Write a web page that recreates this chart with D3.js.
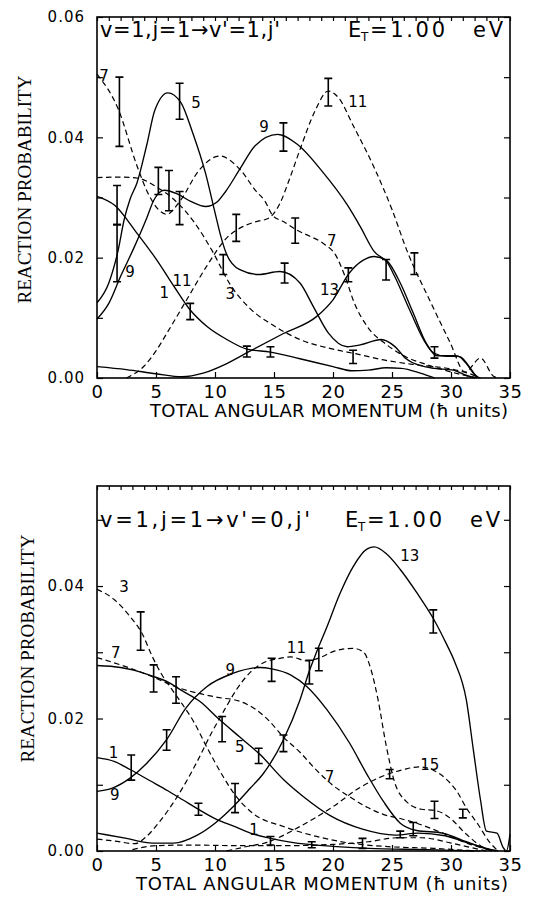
<!DOCTYPE html>
<html>
<head>
<meta charset="utf-8">
<script src="https://cdn.jsdelivr.net/npm/d3@7"></script>
<style>
  html, body { margin: 0; padding: 0; background: #fff; }
  svg { display: block; }
</style>
</head>
<body>
<svg id="fig" width="535" height="901"></svg>
<script>
// Reaction probability vs total angular momentum J, one curve per final j'.
// Each curve is a list of [J, P] points; error bars are [J, low, high].

const xTickLabels = [0, 5, 10, 15, 20, 25, 30, 35];
const yTickLabelsUpper = [0.00, 0.02, 0.04, 0.06];
const yTickLabelsLower = [0.00, 0.02, 0.04];

// ---------- upper panel: v=1, j=1 -> v'=1, j' ----------
const up1 = [[0,0.0302],[1.5,0.0287],[3.3,0.0243],[5,0.0198],[6.6,0.015],[7.9,0.0113],[9.3,0.0086],[11,0.0064],[12.7,0.0048],[14.7,0.0043],[17.2,0.0032],[20,0.0019],[21.6,0.0012],[23,0.0013],[24.5,0.0017],[25.8,0.0016],[27.4,0.0008],[28.6,0]];
const up3 = [[0,0.0333],[2,0.0334],[3.5,0.0332],[5,0.0318],[6.5,0.0297],[8.2,0.026],[9.8,0.021],[11.3,0.0155],[13,0.0115],[14.9,0.0088],[17.2,0.0064],[20,0.0048],[22,0.004],[24.3,0.003],[27,0.0022],[30,0.0015],[31.6,0.0007],[32.5,0]];
const up5 = [[0,0.0125],[1,0.0158],[1.8,0.0213],[2.3,0.0263],[2.8,0.0297],[3.4,0.0325],[4.2,0.0386],[4.9,0.0445],[6,0.0474],[7.1,0.0458],[8.1,0.0408],[9.2,0.034],[10,0.0275],[10.5,0.0235],[11,0.0205],[12.1,0.018],[13.7,0.0172],[15.5,0.0177],[17.2,0.0158],[18.3,0.012],[19.6,0.0075],[21.2,0.0052],[22.3,0.0055],[24.1,0.0064],[25.2,0.0053],[26.2,0.0032],[27.5,0.002],[28.6,0.0016],[30.2,0.0013],[31.2,0.0005],[32,0]];
const up7 = [[0,0.0505],[1.8,0.0447],[3.4,0.0352],[4.3,0.0308],[5.2,0.028],[5.9,0.0272],[7.06,0.0295],[8.64,0.0345],[10.4,0.0369],[12.1,0.0347],[13.5,0.031],[14.2,0.0295],[14.9,0.027],[15.8,0.026],[17,0.0245],[18,0.0236],[19.3,0.0222],[20.2,0.0205],[21,0.017],[21.8,0.0125],[23,0.0083],[24.5,0.0056],[26.2,0.0035],[28,0.0022],[30,0.001],[31.5,0.0003],[32.5,0]];
const up9 = [[0,0.0098],[1,0.0124],[2,0.0169],[3.1,0.0215],[4.2,0.0265],[4.8,0.0295],[5.7,0.0312],[6.8,0.0306],[8,0.0293],[9.2,0.0285],[10.2,0.0293],[10.9,0.031],[12.1,0.0347],[13.4,0.0386],[15.3,0.0405],[17,0.0388],[19.1,0.0343],[21.2,0.0288],[22.3,0.0252],[23.5,0.021],[24.6,0.0192],[25.2,0.017],[26.5,0.0113],[27.7,0.0063],[28.5,0.0042],[29.6,0.0036],[30.6,0.0036],[31.3,0.0024],[31.9,0.0008],[32.4,0]];
const up11 = [[2.5,0],[4,0.002],[5,0.0045],[6,0.0077],[7.6,0.013],[9.3,0.0186],[11,0.0233],[12.4,0.0252],[13.5,0.026],[14.5,0.0265],[15.5,0.029],[16.3,0.033],[17.3,0.0385],[18.5,0.0445],[19.6,0.0477],[20.5,0.0465],[21.7,0.042],[23.6,0.0345],[25,0.028],[26.3,0.021],[28.3,0.0125],[29.9,0.006],[31.2,0.001],[32.5,0.0033],[33.6,0.0003],[34,0]];
const up13 = [[0,0.0019],[2.5,0.0014],[5,0.0007],[7.2,0.0002],[9,0.0008],[11,0.0024],[13,0.0045],[15.8,0.0074],[18.6,0.0102],[20,0.013],[21.4,0.0175],[22.5,0.0195],[23.5,0.0202],[24.5,0.0196],[25.7,0.0158],[26.8,0.0108],[27.9,0.0058],[28.8,0.0037],[30.2,0.0037],[30.8,0.0035],[31.5,0.002],[32.2,0]];

const upBars = [[1.9,0.0385,0.050],[1.7,0.0255,0.032],[1.7,0.016,0.0255],[5.2,0.0305,0.035],[6.1,0.0278,0.0345],[7.0,0.0255,0.031],[7.0,0.043,0.049],[7.9,0.0097,0.0124],[10.7,0.0172,0.0205],[11.8,0.0227,0.0272],[12.7,0.0035,0.0053],[14.7,0.0035,0.0052],[15.9,0.0158,0.0191],[15.8,0.0377,0.0424],[16.8,0.0224,0.0266],[19.6,0.0452,0.0498],[21.3,0.016,0.0183],[21.7,0.0024,0.0046],[24.5,0.0163,0.0197],[26.9,0.0172,0.0208],[28.6,0.0033,0.0052]];

const upLabels = [["7",0.6,0.0502],["5",8.4,0.0457],["9",14.15,0.0417],["11",22.1,0.0458],["9",2.8,0.0177],["1",5.7,0.0142],["11",7.2,0.0162],["3",11.3,0.014],["7",19.9,0.0227],["13",19.7,0.0147]];

// ---------- lower panel: v=1, j=1 -> v'=0, j' ----------
const lo1 = [[0,0.0141],[1.5,0.0135],[2.8,0.0123],[4.5,0.0106],[6,0.0091],[7.3,0.0077],[8.5,0.0064],[10,0.0049],[11.8,0.0036],[13,0.0027],[14.7,0.0019],[16.5,0.0013],[20,0.0007],[23,0.0004],[28,0.0002],[32,0]];
const lo3 = [[0,0.0395],[1.5,0.0379],[2.8,0.0354],[3.8,0.0329],[4.7,0.0293],[5.5,0.0266],[6.3,0.0245],[7.1,0.0225],[8.2,0.0195],[9.3,0.0157],[10.7,0.0112],[11.6,0.0087],[13.2,0.0057],[15.8,0.0037],[18.6,0.0022],[21.4,0.0012],[24.3,0.0007],[28.5,0.0004],[31.4,0.0001],[32.5,0]];
const lo5 = [[0,0.028],[2,0.0277],[3.1,0.0273],[4.7,0.0264],[5.9,0.0256],[7.2,0.0242],[8.7,0.0226],[10.4,0.0198],[12.1,0.0172],[13.8,0.0146],[15.8,0.0108],[17.5,0.0082],[19.8,0.0053],[22.5,0.0033],[25.3,0.0024],[27.2,0.0027],[29.5,0.0023],[31.5,0.0012],[33,0.0004],[34,0]];
const lo7 = [[0,0.0292],[2.8,0.0276],[4.7,0.0263],[6.8,0.0247],[8.6,0.0238],[10.2,0.0232],[12.1,0.0226],[13.5,0.0213],[14.5,0.0198],[15.8,0.0172],[17.2,0.0149],[18.6,0.0122],[20,0.0099],[21.4,0.0082],[22.9,0.0066],[24.3,0.0055],[25.7,0.0049],[27.4,0.004],[29.3,0.0027],[31.3,0.0012],[33,0.0003],[33.8,0]];
const lo9 = [[0,0.009],[1.3,0.0095],[2.8,0.011],[4.2,0.0132],[5.9,0.0168],[7.5,0.0215],[9.3,0.0248],[11.5,0.0268],[13.8,0.0277],[14.8,0.0275],[16.4,0.0266],[17.8,0.0248],[19.5,0.0213],[21.4,0.0163],[22.9,0.0115],[24.3,0.0074],[25.7,0.0042],[27.1,0.0031],[29.3,0.0027],[31.3,0.0014],[33,0.0003],[33.5,0]];
const lo11 = [[0,0.0018],[1.5,0.0015],[3.2,0.0011],[4.2,0.0022],[5.2,0.0042],[6.8,0.0082],[8.4,0.0132],[9.7,0.0178],[10.8,0.0213],[11.8,0.0243],[13,0.027],[14.2,0.0285],[15.3,0.029],[16.4,0.0293],[17.8,0.0287],[18.9,0.0292],[20,0.0301],[21.7,0.0306],[22.6,0.03],[23.2,0.0275],[23.8,0.023],[24.5,0.016],[25.2,0.0105],[26.2,0.0075],[27.5,0.0063],[28.7,0.0061],[29.9,0.005],[31.2,0.0027],[32.5,0.0008],[33.5,0]];
const lo13 = [[0,0.0027],[2.5,0.0019],[4.7,0.0012],[6.5,0.0012],[8.5,0.0024],[10,0.0042],[11.6,0.0068],[13,0.0095],[14.1,0.0117],[15.8,0.0168],[17.2,0.0228],[18,0.0272],[18.6,0.03],[19.5,0.0339],[20.6,0.0389],[21.7,0.0429],[22.9,0.0456],[23.5,0.0459],[24.5,0.0449],[25.7,0.0425],[27.1,0.039],[28.5,0.0351],[29.6,0.0313],[30.3,0.0286],[31.3,0.0228],[31.9,0.0152],[32.5,0.0077],[33,0.003],[33.9,0.0027],[34.4,0.0006],[34.7,0],[35,0.0025]];
const lo15 = [[11,0],[12.5,0.0006],[14.4,0.0013],[17.2,0.0037],[20,0.0067],[22.3,0.0096],[24.5,0.0115],[26,0.0123],[27.3,0.0127],[28.5,0.0122],[29.5,0.011],[30.5,0.009],[31.3,0.0065],[32.3,0.004],[33.2,0.0015],[34,0]];
const lo17 = [[3,0.0002],[5,0.0008],[8,0.0009],[12,0.0008],[16,0.0008],[20,0.001],[23,0.0014],[25.5,0.002],[27.5,0.002],[30,0.0012],[32,0.0004],[33,0]];

const loBars = [[3.7,0.0303,0.0361],[4.8,0.024,0.0281],[6.7,0.0223,0.0263],[2.9,0.0107,0.0145],[5.9,0.0152,0.0183],[8.6,0.0054,0.0072],[10.6,0.0165,0.0203],[11.7,0.0058,0.0102],[13.7,0.0132,0.0155],[14.8,0.0256,0.0291],[15.8,0.015,0.0175],[14.7,0.0009,0.0022],[18.0,0.0252,0.0288],[18.8,0.0272,0.0306],[18.2,0.0005,0.0014],[22.5,0.0004,0.0019],[24.8,0.0109,0.0123],[25.7,0.002,0.003],[26.8,0.0023,0.0043],[28.5,0.0329,0.0364],[28.6,0.0049,0.0075],[31.0,0.005,0.0063]];

const loLabels = [["3",2.3,0.0398],["7",1.6,0.0299],["9",11.3,0.0273],["11",16.9,0.0306],["13",26.5,0.0445],["1",1.4,0.0148],["9",1.5,0.0085],["5",12.1,0.0157],["7",19.7,0.0112],["15",28.2,0.013],["1",13.3,0.0032]];

// ---------- drawing ----------
const svg = d3.select("#fig");
const SANS = "'DejaVu Sans', 'Liberation Sans', sans-serif";
const SERIF = "'Liberation Serif', 'Times New Roman', serif";
const x = d3.scaleLinear().domain([0, 35]).range([97, 510]);

function spacedText(g, xPos, yPos, size, len, str) {
  return g.append("text").attr("x", xPos).attr("y", yPos)
    .attr("font-family", SANS).attr("font-size", size)
    .attr("textLength", len).attr("lengthAdjust", "spacing")
    .text(str);
}

function drawPanel(cfg) {
  const y = d3.scaleLinear().domain([0, cfg.yMax]).range([cfg.bottom, cfg.top]);
  const g = svg.append("g");

  // curves
  const line = d3.line().x(d => x(d[0])).y(d => y(d[1])).curve(d3.curveMonotoneX);
  cfg.curves.forEach(c => {
    g.append("path")
      .attr("d", line(c.pts))
      .attr("fill", "none")
      .attr("stroke", "#000")
      .attr("stroke-width", c.dashed ? 1.2 : 1.35)
      .attr("stroke-dasharray", c.dashed ? "5.5,3.5" : null);
  });

  // error bars
  const capHalf = 4;
  g.append("g").selectAll("path").data(cfg.bars).join("path")
    .attr("d", d => {
      const cx = x(d[0]), y0 = y(d[1]), y1 = y(d[2]);
      return `M${cx - capHalf},${y0}H${cx + capHalf}M${cx},${y0}V${y1}M${cx - capHalf},${y1}H${cx + capHalf}`;
    })
    .attr("fill", "none").attr("stroke", "#000").attr("stroke-width", 1.6);

  // curve labels
  g.append("g").selectAll("text").data(cfg.labels).join("text")
    .attr("x", d => x(d[1])).attr("y", d => y(d[2]))
    .attr("text-anchor", "middle").attr("dominant-baseline", "central")
    .attr("font-family", SANS).attr("font-size", 15)
    .text(d => d[0]);

  // frame
  g.append("rect")
    .attr("x", x(0)).attr("y", cfg.top)
    .attr("width", x(35) - x(0)).attr("height", cfg.bottom - cfg.top)
    .attr("fill", "none").attr("stroke", "#000").attr("stroke-width", 1.6);

  // x axes: minor ticks every unit, labelled ticks every 5, all pointing inward
  const unitTicks = d3.range(0, 36);
  const xb = g.append("g").attr("transform", `translate(0,${cfg.bottom})`);
  xb.call(d3.axisBottom(x).tickValues(unitTicks).tickSize(-4).tickFormat(""));
  xb.call(d3.axisBottom(x).tickValues(xTickLabels).tickSize(-6).tickPadding(7).tickFormat(d3.format("d")));
  xb.selectAll(".domain").remove();
  xb.selectAll("text").attr("font-family", SANS).attr("font-size", 18)
    .attr("letter-spacing", 0.5).attr("fill", "#000");

  const xt = g.append("g").attr("transform", `translate(0,${cfg.top})`);
  xt.call(d3.axisTop(x).tickValues(unitTicks).tickSize(-4).tickFormat(""));
  xt.selectAll(".domain").remove();

  // y axes: ticks every 0.01, labels every 0.02
  const yTicks = d3.range(0, 7).map(i => i / 100).filter(v => v <= cfg.yMax + 1e-9);
  const isLabelled = v => cfg.yLabels.some(l => Math.abs(l - v) < 1e-9);
  const yl = g.append("g").attr("transform", `translate(${x(0)},0)`);
  yl.call(d3.axisLeft(y).tickValues(yTicks).tickSize(-6).tickPadding(12)
    .tickFormat(v => isLabelled(v) ? d3.format(".2f")(v) : ""));
  yl.selectAll(".domain").remove();
  yl.selectAll("text").attr("font-family", SANS).attr("font-size", 15)
    .attr("letter-spacing", 1).attr("fill", "#000");

  const yr = g.append("g").attr("transform", `translate(${x(35)},0)`);
  yr.call(d3.axisRight(y).tickValues(yTicks).tickSize(-6).tickFormat(""));
  yr.selectAll(".domain").remove();

  g.selectAll(".tick line").attr("stroke", "#000").attr("stroke-width", 1.2);

  // panel heading
  const t = cfg.title;
  spacedText(g, 100, t.base, 21, t.len, t.text);
  g.append("text").attr("x", t.ex).attr("y", t.base)
    .attr("font-family", SANS).attr("font-size", 21).text("E");
  g.append("text").attr("x", t.ex + 13).attr("y", t.base + 4)
    .attr("font-family", SANS).attr("font-size", 12).text("T");
  spacedText(g, t.ex + 22, t.base, 21, 75, "=1.00");
  spacedText(g, t.ex + 125, t.base, 21, 30, "eV");

  // axis titles
  spacedText(g, cfg.xTitleX, cfg.bottom + 39, 18, 508 - cfg.xTitleX,
    "TOTAL ANGULAR MOMENTUM (\u0127 units)");
  g.append("text")
    .attr("transform", `translate(${cfg.yTitleX},${(cfg.top + cfg.bottom) / 2 + cfg.yTitleShift}) rotate(-90)`)
    .attr("text-anchor", "middle").attr("dominant-baseline", "central")
    .attr("font-family", SERIF).attr("font-size", 19)
    .attr("textLength", 228).attr("lengthAdjust", "spacingAndGlyphs")
    .text("REACTION PROBABILITY");
}

drawPanel({
  top: 17, bottom: 378, yMax: 0.06, yLabels: yTickLabelsUpper,
  curves: [
    { pts: up1, dashed: false }, { pts: up3, dashed: true }, { pts: up5, dashed: false },
    { pts: up7, dashed: true }, { pts: up9, dashed: false }, { pts: up11, dashed: true },
    { pts: up13, dashed: false }
  ],
  bars: upBars, labels: upLabels,
  title: { text: "v=1,j=1\u2192v'=1,j'", len: 180, base: 37, ex: 348 },
  xTitleX: 150, yTitleX: 24, yTitleShift: -8
});

drawPanel({
  top: 486, bottom: 851, yMax: 0.0551, yLabels: yTickLabelsLower,
  curves: [
    { pts: lo1, dashed: false }, { pts: lo3, dashed: true }, { pts: lo5, dashed: false },
    { pts: lo7, dashed: true }, { pts: lo9, dashed: false }, { pts: lo11, dashed: true },
    { pts: lo13, dashed: false }, { pts: lo15, dashed: true }, { pts: lo17, dashed: true }
  ],
  bars: loBars, labels: loLabels,
  title: { text: "v=1,j=1\u2192v'=0,j'", len: 210, base: 527, ex: 345 },
  xTitleX: 136, yTitleX: 27, yTitleShift: -20
});
</script>
</body>
</html>
